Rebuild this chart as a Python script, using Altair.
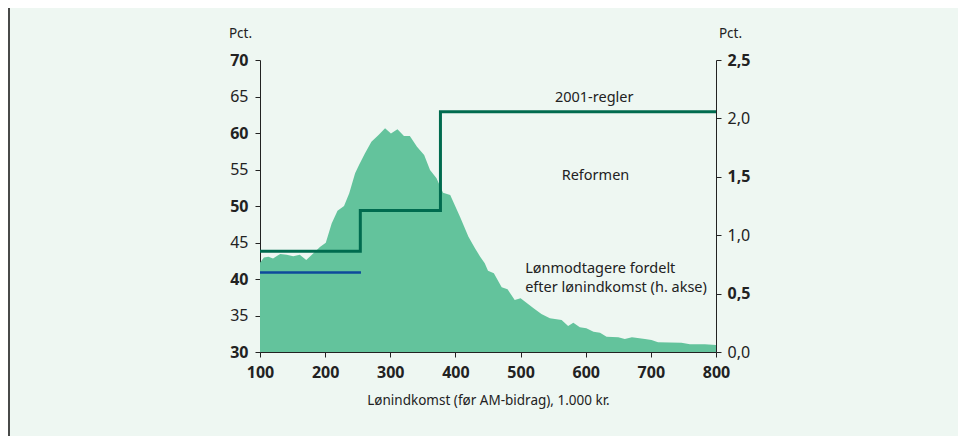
import altair as alt
import pandas as pd

# Distribution of wage earners by income (right axis, pct.)
income = [100, 106, 113, 120, 131, 141, 151, 161, 171, 182, 192, 201, 210, 219, 229,
          237, 246, 252, 261, 271, 282, 292, 301, 311, 321, 330, 341, 352, 361, 371,
          378, 381, 392, 407, 420, 430, 438, 445, 450, 459, 471, 480, 491, 500, 520,
          532, 545, 563, 573, 581, 591, 601, 612, 622, 632, 650, 660, 671, 691, 701,
          711, 747, 760, 783, 800]
share = [0.765, 0.81, 0.816, 0.80, 0.84, 0.833, 0.82, 0.833, 0.788, 0.845, 0.90, 0.936, 1.10, 1.21, 1.25,
         1.36, 1.53, 1.60, 1.70, 1.80, 1.858, 1.915, 1.87, 1.907, 1.85, 1.85, 1.758, 1.687, 1.558, 1.487,
         1.40, 1.364, 1.344, 1.158, 0.987, 0.888, 0.816, 0.76, 0.696, 0.674, 0.554, 0.537, 0.445, 0.46, 0.374,
         0.325, 0.288, 0.274, 0.223, 0.251, 0.211, 0.203, 0.174, 0.165, 0.131, 0.126, 0.111, 0.126, 0.111, 0.103,
         0.083, 0.08, 0.066, 0.066, 0.06]

# 2001 rules (step, left axis)
rules_x = [100, 254, 377, 800]
rules_y = [43.8, 49.4, 62.9, 62.9]

# Reform (left axis)
reform_x = [100, 255]
reform_y = [40.9, 40.9]

# Annotations
ann_text = ["2001-regler", "Reformen"]
ann_x = [613, 615]
ann_y = [64.75, 54.1]
note_lines = ["Lønmodtagere fordelt", "efter lønindkomst (h. akse)"]
note_x = [507, 507]
note_y = [41.4, 38.8]

left_ticks = [30, 35, 40, 45, 50, 55, 60, 65, 70]
right_ticks = [0, 0.5, 1, 1.5, 2, 2.5]
x_ticks = [100, 200, 300, 400, 500, 600, 700, 800]

FONT = "Noto Sans"
INK = "#222222"

dist = pd.DataFrame({"x": income, "y": share})
rules = pd.DataFrame({"x": rules_x, "y": rules_y})
reform = pd.DataFrame({"x": reform_x, "y": reform_y})
ann = pd.DataFrame({"x": ann_x, "y": ann_y, "t": ann_text})
note = pd.DataFrame({"x": note_x, "y": note_y, "t": note_lines})

xscale = alt.Scale(domain=[100, 800], nice=False, zero=False)
xaxis = alt.Axis(values=x_ticks, title="Lønindkomst (før AM-bidrag), 1.000 kr.",
                 grid=False, labelFontSize=16, labelFontWeight="bold", labelPadding=7,
                 labelFlush=False, labelOverlap=False,
                 tickSize=5, titleFontSize=13.5, titleFontWeight="normal", titlePadding=13,
                 domainColor=INK, tickColor=INK, labelColor=INK, titleColor=INK)
lscale = alt.Scale(domain=[30, 70], nice=False, zero=False)
rscale = alt.Scale(domain=[0, 2.5], nice=False, zero=True)

laxis = alt.Axis(
    orient="left", values=left_ticks, grid=False, labelFontSize=16,
    labelOverlap=False, labelFlush=False,
    labelFontWeight=alt.condition("datum.value % 10 == 0", alt.value("bold"), alt.value("normal")),
    labelPadding=7, tickSize=5, title="Pct.", titleAngle=0, titleAlign="center",
    titleBaseline="alphabetic", titleX=-20, titleY=-23, titleFontSize=13.5,
    titleFontWeight="normal", domainColor=INK, tickColor=INK, labelColor=INK, titleColor=INK)

raxis = alt.Axis(
    orient="right", values=right_ticks, grid=False,
    labelExpr="replace(format(datum.value, '.1f'), '.', ',')",
    labelFontSize=16, labelOverlap=False, labelFlush=False,
    labelFontWeight=alt.condition("datum.value * 2 % 2 == 1", alt.value("bold"), alt.value("normal")),
    labelPadding=6, tickSize=5, title="Pct.", titleAngle=0, titleAlign="center",
    titleBaseline="alphabetic", titleX=14, titleY=-23, titleFontSize=13.5,
    titleFontWeight="normal", domainColor=INK, tickColor=INK, labelColor=INK, titleColor=INK)

X = alt.X("x:Q", scale=xscale, axis=xaxis)
YL = alt.Y("y:Q", scale=lscale, axis=laxis)

area = alt.Chart(dist).mark_area(color="#63c39c", opacity=1, interpolate="linear").encode(
    x=X, y=alt.Y("y:Q", scale=rscale, axis=raxis))

step = alt.Chart(rules).mark_line(color="#006b4f", strokeWidth=3, interpolate="step-after").encode(
    x=X, y=YL)

blue = alt.Chart(reform).mark_line(color="#0d4a9b", strokeWidth=2.5).encode(x=X, y=YL)

ann_marks = alt.Chart(ann).mark_text(font=FONT, fontSize=14.5, color=INK, align="center",
                                     baseline="middle").encode(x=X, y=YL, text="t:N")

note_marks = alt.Chart(note).mark_text(font=FONT, fontSize=14.5, color=INK, align="left",
                                       baseline="middle").encode(x=X, y=YL, text="t:N")

frame = alt.Chart(pd.DataFrame({"a": [0]})).mark_rule(color="#111111", strokeWidth=1.5).encode(
    x=alt.value(-251), y=alt.value(-60), y2=alt.value(390))

left = alt.layer(step, blue, ann_marks, note_marks, frame)

chart = alt.layer(area, left).resolve_scale(y="independent").properties(
    width=456, height=292,
    autosize=alt.AutoSizeParams(type="none"),
    padding={"left": 252, "top": 52, "right": 242, "bottom": 84},
).configure(
    background="#eef7f2", font=FONT
).configure_view(stroke=None)

chart.save("out.html", embed_options={"renderer": "svg", "actions": False})
